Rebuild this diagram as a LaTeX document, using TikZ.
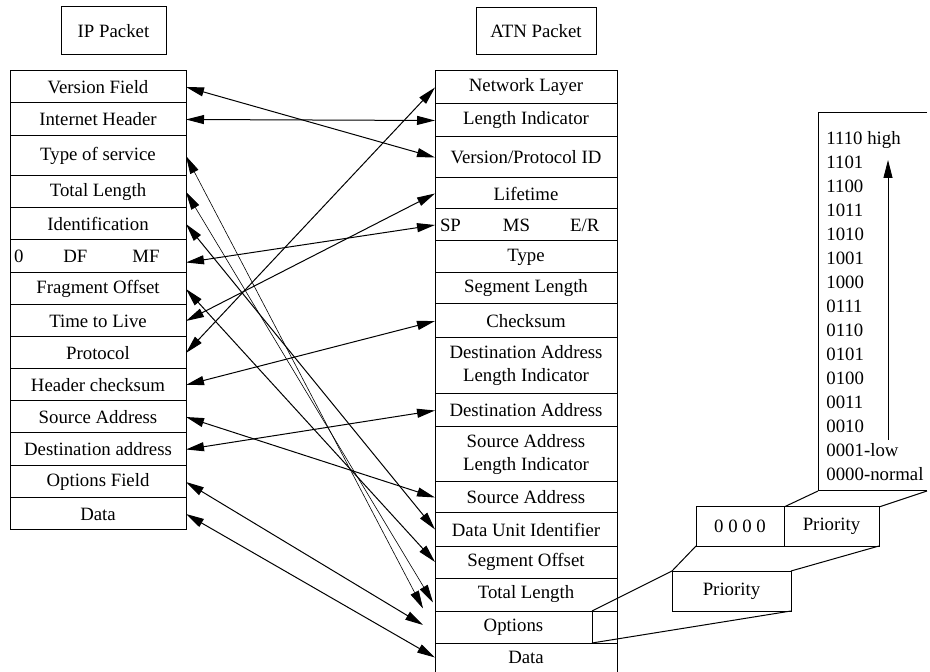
\documentclass[tikz,border=0pt]{standalone}
\usepackage{fontspec}
\setmainfont{Liberation Serif}
\usetikzlibrary{arrows.meta}

\begin{document}
\begin{tikzpicture}[
  x=0.5pt, y=-0.5pt,
  font={\fontsize{9.4}{11.5}\selectfont},
  field/.style={draw,line width=0.5pt,inner sep=0pt,outer sep=0pt,align=center},
  ipfield/.style={field,minimum width=88pt},
  atnfield/.style={field,minimum width=91pt},
  title/.style={draw,line width=0.5pt,inner sep=0pt},
  map/.style={<->,line width=0.5pt},
  faint/.style={<->,line width=0.3pt},
  >={Triangle[length=9pt,width=4.5pt]},
]
  \useasboundingbox (0,0) rectangle (930,672);

  % Headings
  \node[title,minimum width=52.5pt,minimum height=24pt] (iptitle) at (113.5,31) {IP Packet};
  \node[title,minimum width=60pt,minimum height=23.5pt] (atntitle) at (536,31.5) {ATN Packet};

  % IP header
  \node[below right,ipfield,minimum height=16pt] (ipver) at (10,71) {Version Field};
  \node[below right,ipfield,minimum height=16.5pt] (iphdr) at (10,103) {Internet Header};
  \node[below right,ipfield,minimum height=20pt] (iptos) at (10,136) {Type of service};
  \node[below right,ipfield,minimum height=16pt] (iplen) at (10,176) {Total Length};
  \node[below right,ipfield,minimum height=16pt] (ipid) at (10,208) {Identification};
  \node[below right,ipfield,minimum height=16.5pt,text width=84pt,align=left] (ipflags) at (10,240)
        {0\hspace{20pt}DF\hspace{22.5pt}MF};
  \node[below right,ipfield,minimum height=16pt] (ipfrag) at (10,273) {Fragment Offset};
  \node[below right,ipfield,minimum height=16pt] (ipttl) at (10,305) {Time to Live};
  \node[below right,ipfield,minimum height=16pt] (ipproto) at (10,337) {Protocol};
  \node[below right,ipfield,minimum height=16pt] (ipcsum) at (10,369) {Header checksum};
  \node[below right,ipfield,minimum height=16pt] (ipsrc) at (10,401) {Source Address};
  \node[below right,ipfield,minimum height=16.5pt] (ipdst) at (10,433) {Destination address};
  \node[below right,ipfield,minimum height=16pt] (ipopt) at (10,466) {Options Field};
  \node[below right,ipfield,minimum height=16pt] (ipdata) at (10,498) {Data};

  % ATN header
  \node[below right,atnfield,minimum height=16.5pt] (atnnet) at (435,71) {Network Layer};
  \node[below right,atnfield,minimum height=16.5pt] (atnli) at (435,104) {Length Indicator};
  \node[below right,atnfield,minimum height=20.5pt] (atnver) at (435,137) {Version/Protocol ID};
  \node[below right,atnfield,minimum height=15.5pt] (atnlife) at (435,178) {Lifetime};
  \node[below right,atnfield,minimum height=16pt,text width=86pt,align=left] (atnflags) at (435,209)
        {SP\hspace{21pt}MS\hspace{20pt}E/R};
  \node[below right,atnfield,minimum height=16pt] (atntype) at (435,241) {Type};
  \node[below right,atnfield,minimum height=15.5pt] (atnseglen) at (435,273) {Segment Length};
  \node[below right,atnfield,minimum height=17pt] (atncsum) at (435,304) {Checksum};
  \node[below right,atnfield,minimum height=28pt] (atndali) at (435,338) {Destination Address\\Length Indicator};
  \node[below right,atnfield,minimum height=16.5pt] (atndst) at (435,394) {Destination Address};
  \node[below right,atnfield,minimum height=27.5pt] (atnsali) at (435,427) {Source Address\\Length Indicator};
  \node[below right,atnfield,minimum height=15.5pt] (atnsrc) at (435,482) {Source Address};
  \node[below right,atnfield,minimum height=16.5pt] (atnduid) at (435,513) {Data Unit Identifier};
  \node[below right,atnfield,minimum height=16pt] (atnsegoff) at (435,546) {Segment Offset};
  \node[below right,atnfield,minimum height=16.5pt] (atntotlen) at (435,578) {Total Length};
  \node[below right,field,minimum width=78.5pt,minimum height=16pt] (atnopt) at (435,611) {Options};
  \node[below right,field,minimum width=12.5pt,minimum height=16pt] (atnprio) at (592,611) {};
  \node[below right,atnfield,minimum height=14.5pt] (atndata) at (435,643) {Data};

  % Priority detail
  \node[below right,field,minimum width=59.5pt,minimum height=20pt] (lowprio) at (672,571) {Priority};
  \node[below right,field,minimum width=44pt,minimum height=19.5pt] (zeros) at (696,507) {0 0 0 0};
  \node[below right,field,minimum width=47.5pt,minimum height=19.5pt] (prioval) at (784,507) {Priority};
  \node[below right,inner sep=0pt,outer sep=0pt,minimum width=54.5pt,minimum height=189pt] (prio) at (818,113) {};
  \draw[line width=0.5pt] (prio.north east) -- (prio.north west) -- (prio.south west) -- (prio.south east);
  \node[below right,inner sep=0pt,align=left,font={\fontsize{9.4}{12}\selectfont}] (levels) at (826,131)
        {1110 high\\1101\\1100\\1011\\1010\\1001\\1000\\0111\\0110\\0101\\0100\\0011\\0010\\0001-low\\0000-normal};
  \coordinate (lowend) at (888,440);
  \coordinate (highend) at (888,160);
  \draw[->,line width=0.4pt] (lowend) -- (highend);

  \draw[line width=0.5pt] (atnprio.north west) -- (lowprio.north west);
  \draw[line width=0.5pt] (atnprio.south west) -- (lowprio.south east);
  \draw[line width=0.5pt] (lowprio.north west) -- (zeros.south west);
  \draw[line width=0.5pt] (lowprio.north east) -- (prioval.south east);
  \draw[line width=0.5pt] (prioval.north west) -- (prio.south west);
  \draw[line width=0.5pt] (prioval.north east) -- (prio.south east);

  % Field mapping
  \draw[map] (ipver.east) -- (atnver.west);
  \draw[map] (iphdr.east) -- (atnli.west);
  \draw[faint] (iptos.east) -- ([shift={(-6pt,-7pt)}]atntotlen.west);
  \draw[faint] (iplen.east) -- ([shift={(-1pt,-4pt)}]atntotlen.west);
  \draw[map] (ipid.east) -- (atnduid.west);
  \draw[map] ([yshift=-3pt]ipflags.east) -- (atnflags.west);
  \draw[map] (ipfrag.east) -- (atnsegoff.west);
  \draw[map] (ipttl.east) -- (atnlife.west);
  \draw[map] (ipproto.east) -- (atnnet.west);
  \draw[map] (ipcsum.east) -- (atncsum.west);
  \draw[map] (ipsrc.east) -- (atnsrc.west);
  \draw[map] (ipdst.east) -- (atndst.west);
  \draw[map] (ipopt.east) -- ([shift={(-6pt,1pt)}]atnopt.west);
  \draw[map] (ipdata.east) -- (atndata.west);

\end{tikzpicture}
\end{document}
